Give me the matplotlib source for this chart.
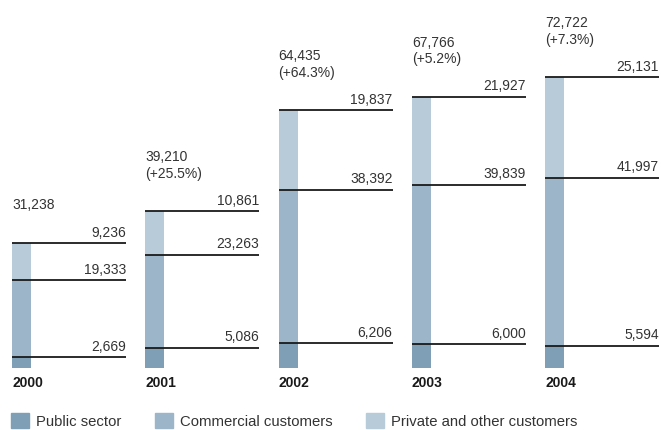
import matplotlib.pyplot as plt
from matplotlib.patches import Patch

# Revenue by customer group, in thousands
years = ['2000', '2001', '2002', '2003', '2004']
public_sector = [2669, 5086, 6206, 6000, 5594]
commercial = [19333, 23263, 38392, 39839, 41997]
private_other = [9236, 10861, 19837, 21927, 25131]
totals = [31238, 39210, 64435, 67766, 72722]
growth = [None, '+25.5%', '+64.3%', '+5.2%', '+7.3%']

c_public = '#7f9fb7'
c_commercial = '#9db5c9'
c_private = '#b8cbd8'
text_color = '#333333'
font = 'Liberation Sans'

W, H = 661, 430
fig = plt.figure(figsize=(W / 100, H / 100), dpi=100)
base_px = 62
ax = fig.add_axes([0, base_px / H, 1, (H - base_px) / H])
step = 133.25
ax.set_xlim(-12 / step, (W - 12) / step)
ax.set_ylim(0, (H - base_px) / 0.004)
ax.axis('off')

bar_w = 19 / step
line_len = 114 / step
x = list(range(len(years)))

segments = [(public_sector, c_public), (commercial, c_commercial), (private_other, c_private)]
bottoms = [0] * len(years)
for values, color in segments:
    ax.bar(x, values, width=bar_w, bottom=bottoms, color=color, align='edge', zorder=1)
    tops = [b + v for b, v in zip(bottoms, values)]
    for i in x:
        ax.hlines(tops[i], i, i + line_len, color='#1a1a1a', lw=1.3, zorder=2)
        ax.annotate(f'{values[i]:,}', (i + line_len, tops[i]), xytext=(0, 2.5),
                    textcoords='offset points', ha='right', va='bottom',
                    fontsize=10, family=font, color=text_color)
    bottoms = tops

for i in x:
    label = f'{totals[i]:,}'
    if growth[i]:
        label += f'\n({growth[i]})'
    ax.annotate(label, (i, totals[i]), xytext=(0, 22), textcoords='offset points',
                ha='left', va='bottom', fontsize=10, family=font,
                color=text_color, linespacing=1.25)
    ax.annotate(years[i], (i, 0), xytext=(0, -6), textcoords='offset points',
                ha='left', va='top', fontsize=10, fontweight='bold',
                family=font, color='#1a1a1a')

handles = [Patch(color=c_public, label='Public sector'),
           Patch(color=c_commercial, label='Commercial customers'),
           Patch(color=c_private, label='Private and other customers')]
fig.legend(handles=handles, loc='center left', bbox_to_anchor=(11 / W, 9 / H), ncol=3,
           frameon=False, handlelength=1.2, handleheight=1.15, handletextpad=0.45,
           columnspacing=2.3, borderaxespad=0, borderpad=0,
           prop={'family': font, 'size': 10.7}, labelcolor=text_color)

fig.savefig('out.png', dpi=100)
